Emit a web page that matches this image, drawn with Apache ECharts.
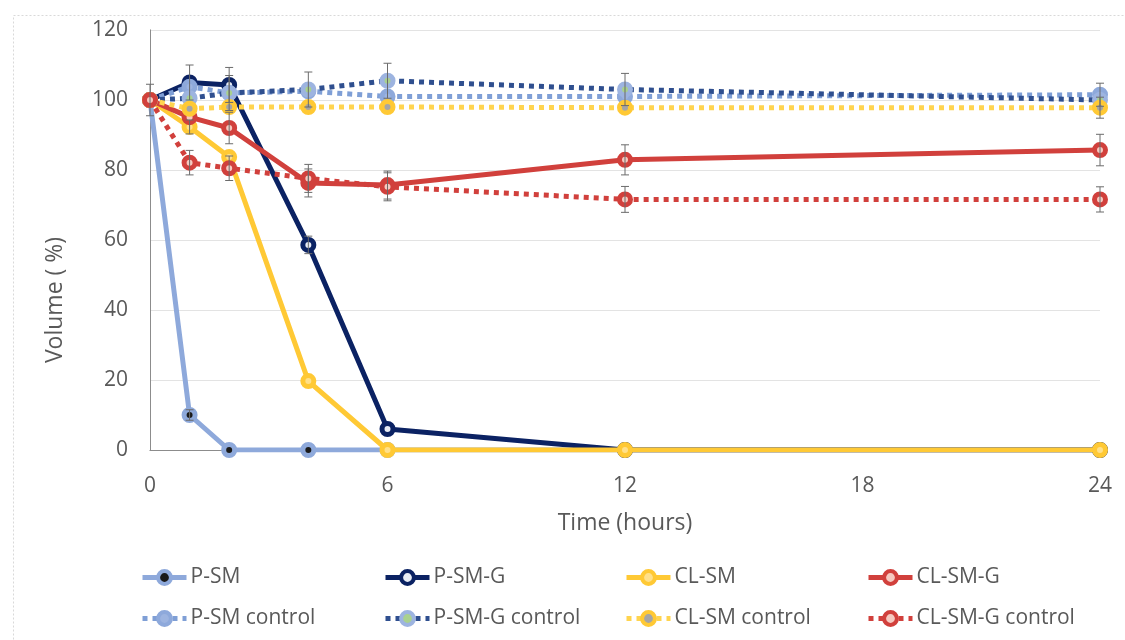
<!DOCTYPE html>
<html><head><meta charset="utf-8">
<script src="https://cdn.jsdelivr.net/npm/echarts@6/dist/echarts.min.js"></script>
<style>html,body{margin:0;padding:0;background:#fff}#c{width:1125px;height:640px}</style>
</head><body><div id="c"></div>
<script>
var times = [0, 1, 2, 4, 6, 12, 24];
var xTicks = [0, 6, 12, 18, 24];
var yTicks = [0, 20, 40, 60, 80, 100, 120];

var pSM        = [100, 10, 0, 0, 0, 0, 0];
var pSMG       = [100, 105, 104.3, 58.6, 6, 0, 0];
var clSM       = [100, 92.3, 83.7, 19.7, 0, 0, 0];
var clSMG      = [100, 95.1, 92, 76.3, 75.7, 82.9, 85.7];
var pSMctl     = [100, 103.8, 102, 102.5, 101, 101, 101.5];
var pSMGctl    = [100, 100.5, 102, 103, 105.5, 103, 100];
var clSMctl    = [100, 97.5, 98, 98, 98, 97.8, 97.8];
var clSMGctl   = [100, 82.1, 80.5, 77.6, 75.2, 71.6, 71.6];

var errPSM     = [0, 1.5, 0, 0, 0, 0, 0];
var errPSMG    = [4.5, 5, 5, 2.5, 0, 0, 0];
var errCLSM    = [0, 2, 0, 0, 0, 0, 0];
var errCLSMG   = [0, 0, 4.5, 4, 4, 4.3, 4.5];
var errPSMctl  = [0, 0, 0, 0, 0, 0, 3.3];
var errPSMGctl = [0, 0, 5, 5, 5, 4.6, 0];
var errCLSMctl = [0, 0, 0, 0, 0, 0, 3];
var errCLSMGctl= [0, 3.5, 3.5, 4, 4, 3.7, 3.6];

var names = ['P-SM','P-SM-G','CL-SM','CL-SM-G','P-SM control','P-SM-G control','CL-SM control','CL-SM-G control'];
var values = [pSM, pSMG, clSM, clSMG, pSMctl, pSMGctl, clSMctl, clSMGctl];
var errs = [errPSM, errPSMG, errCLSM, errCLSMG, errPSMctl, errPSMGctl, errCLSMctl, errCLSMGctl];

var styles = [
  {c:'#8EA9DB', fill:'#1a1a1a', dash:'solid'},
  {c:'#0B2263', fill:'#E8ECF5', dash:'solid'},
  {c:'#FFC935', fill:'#FFE08A', dash:'solid'},
  {c:'#D1403C', fill:'#F6C9C0', dash:'solid'},
  {c:'#8EA9DB', fill:'#9DB4E0', dash:[5,5], lc:'#7F9FD6'},
  {c:'#9DB4E0', fill:'#A9D18E', dash:[5,5], lc:'#2F4F8F'},
  {c:'#FFC935', fill:'#A5A5A5', dash:[5,5], lc:'#FFD44F'},
  {c:'#D1403C', fill:'#F6C9C0', dash:[5,5], lc:'#D1403C'}
];

function pairs(arr){ return times.map(function(t,i){ return [t, arr[i]]; }); }

var series = names.map(function(n, i){
  var s = styles[i];
  return {
    name: n, type: 'line', data: pairs(values[i]),
    symbol: 'circle', symbolSize: 11,
    itemStyle: {color: s.fill, borderColor: s.c, borderWidth: 5},
    lineStyle: {color: s.lc || s.c, width: 5, type: s.dash, cap: 'butt'},
    z: 3 + i, animation: false
  };
});

var errData = [];
values.forEach(function(v, i){
  v.forEach(function(val, j){ if (errs[i][j] > 0) errData.push([times[j], val, errs[i][j]]); });
});
series.push({
  type: 'custom', name: 'err', data: errData, z: 20, silent: true, animation: false,
  renderItem: function(params, api){
    var x = api.value(0), y = api.value(1), e = api.value(2);
    var hi = api.coord([x, y + e]), lo = api.coord([x, y - e]);
    var w = 4;
    var st = {stroke: '#6b6b6b', lineWidth: 1};
    return {type: 'group', children: [
      {type:'line', shape:{x1:hi[0], y1:hi[1], x2:lo[0], y2:lo[1]}, style: st},
      {type:'line', shape:{x1:hi[0]-w, y1:hi[1], x2:hi[0]+w, y2:hi[1]}, style: st},
      {type:'line', shape:{x1:lo[0]-w, y1:lo[1], x2:lo[0]+w, y2:lo[1]}, style: st}
    ]};
  }
});

var font = 'Open Sans';
var legCols = [140, 383, 624, 866];
var legRows = [567, 608];
var legends = names.map(function(n, i){
  var s = styles[i];
  return {
    data: [n], left: legCols[i % 4], top: legRows[Math.floor(i / 4)],
    padding: 0,
    itemWidth: 44, itemHeight: 16, itemGap: 6,
    lineStyle: {width: 5, color: s.lc || s.c, type: s.dash, cap: 'butt'},
    itemStyle: {color: s.fill, borderColor: s.c, borderWidth: 4},
    textStyle: {fontFamily: font, fontSize: 21, color: '#595959', padding: [0,0,0,-1]},
    selectedMode: false
  };
});

var option = {
  backgroundColor: '#fff',
  animation: false,
  grid: {left: 150, right: 25, top: 30, bottom: 190},
  legend: legends,
  xAxis: [{
    type: 'value', min: 0, max: 24, interval: 6,
    name: 'Time (hours)', nameLocation: 'middle', nameGap: 62,
    nameTextStyle: {fontFamily: font, fontSize: 23, color: '#595959'},
    axisLine: {show: true, lineStyle: {color: '#D9D9D9', width: 1}},
    axisTick: {show: false},
    axisLabel: {fontFamily: font, fontSize: 21, color: '#595959', margin: 26,
      formatter: function(v){ return xTicks.indexOf(v) >= 0 ? String(v) : ''; }},
    splitLine: {show: false}
  }, {
    type: 'value', min: 0, max: 24, interval: 6, position: 'top',
    axisLine: {show: true, lineStyle: {color: '#8C8C8C', width: 1}},
    axisTick: {show: false}, axisLabel: {show: false}, splitLine: {show: false}
  }],
  yAxis: [{
    type: 'value', min: 0, max: 120, interval: 20,
    axisLine: {show: true, lineStyle: {color: '#BFBFBF', width: 1}},
    axisTick: {show: false},
    axisLabel: {fontFamily: font, fontSize: 21, color: '#595959', margin: 22,
      formatter: function(v){ return yTicks.indexOf(v) >= 0 ? String(v) : ''; }},
    splitLine: {show: true, lineStyle: {color: '#E3E3E3', width: 1}}
  }, {
    type: 'value', min: 0, max: 120, interval: 20, position: 'right',
    axisLine: {show: true, lineStyle: {color: '#8C8C8C', width: 1}},
    axisTick: {show: false}, axisLabel: {show: false}, splitLine: {show: false}
  }],
  graphic: [
    {type: 'rect', left: 11, top: 13, shape: {width: 1200, height: 700},
     style: {fill: 'none', stroke: '#D9D9D9', lineWidth: 1, lineDash: [2,2]}, silent: true, z: -1},
    {type: 'text', x: 55, y: 300, rotation: Math.PI / 2,
     style: {text: 'Volume ( %)', fontFamily: font, fontSize: 23, fill: '#595959', textAlign: 'center', textVerticalAlign: 'middle'}}
  ],
  series: series
};

var chart = echarts.init(document.getElementById('c'), null, {renderer: 'canvas'});
chart.setOption(option);
</script>
</body></html>
